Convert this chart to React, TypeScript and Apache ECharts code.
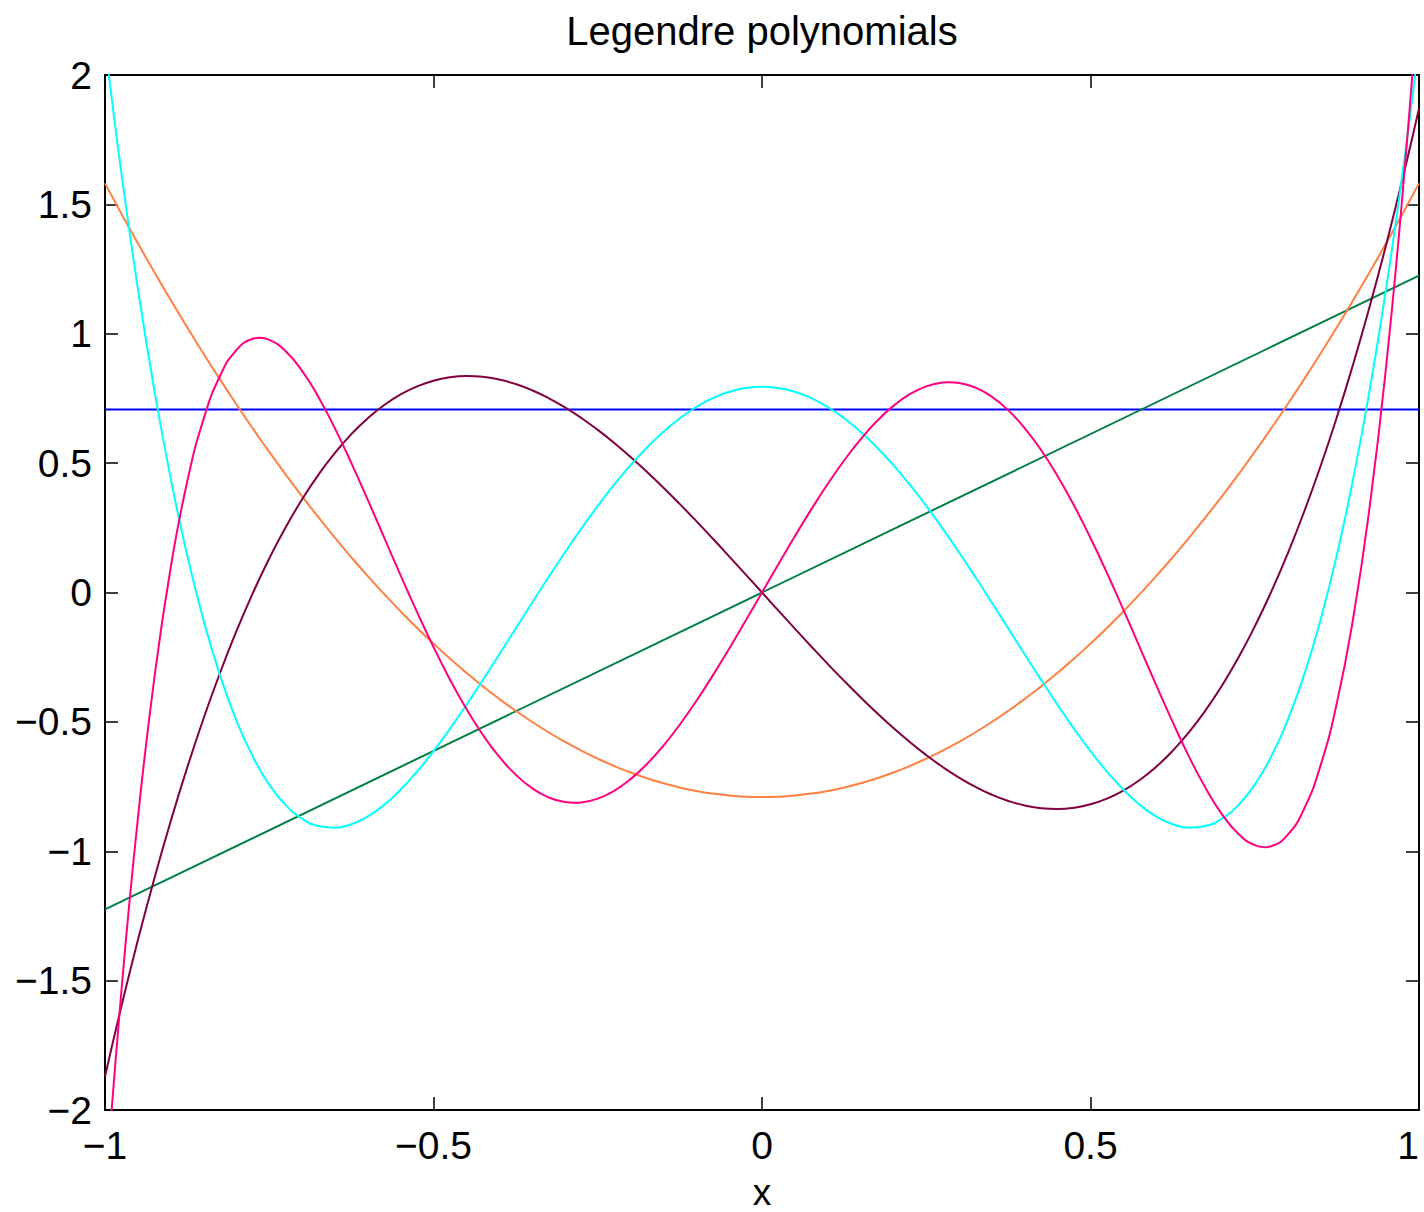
import React, { useEffect, useRef } from "react";
import * as echarts from "echarts";

// Sample positions on [-1, 1], step 0.025
const xs = [
  -1, -0.975, -0.95, -0.925, -0.9, -0.875, -0.85, -0.825, -0.8, -0.775, -0.75, -0.725, -0.7, -0.675, -0.65, -0.625, -0.6, -0.575, -0.55, -0.525,
  -0.5, -0.475, -0.45, -0.425, -0.4, -0.375, -0.35, -0.325, -0.3, -0.275, -0.25, -0.225, -0.2, -0.175, -0.15, -0.125, -0.1, -0.075, -0.05, -0.025,
  0,
  0.025, 0.05, 0.075, 0.1, 0.125, 0.15, 0.175, 0.2, 0.225, 0.25, 0.275, 0.3, 0.325, 0.35, 0.375, 0.4, 0.425, 0.45, 0.475,
  0.5, 0.525, 0.55, 0.575, 0.6, 0.625, 0.65, 0.675, 0.7, 0.725, 0.75, 0.775, 0.8, 0.825, 0.85, 0.875, 0.9, 0.925, 0.95, 0.975, 1,
];

// P5 samples also include its four turning points (±0.285, ±0.765)
const xs5 = [
  -1, -0.975, -0.95, -0.925, -0.9, -0.875, -0.85, -0.825, -0.8, -0.775, -0.765, -0.75, -0.725, -0.7, -0.675, -0.65, -0.625, -0.6, -0.575, -0.55, -0.525,
  -0.5, -0.475, -0.45, -0.425, -0.4, -0.375, -0.35, -0.325, -0.3, -0.285, -0.275, -0.25, -0.225, -0.2, -0.175, -0.15, -0.125, -0.1, -0.075, -0.05, -0.025,
  0,
  0.025, 0.05, 0.075, 0.1, 0.125, 0.15, 0.175, 0.2, 0.225, 0.25, 0.275, 0.285, 0.3, 0.325, 0.35, 0.375, 0.4, 0.425, 0.45, 0.475,
  0.5, 0.525, 0.55, 0.575, 0.6, 0.625, 0.65, 0.675, 0.7, 0.725, 0.75, 0.765, 0.775, 0.8, 0.825, 0.85, 0.875, 0.9, 0.925, 0.95, 0.975, 1,
];

// End points for the two straight lines
const xsEnds = [-1, 1];
const p0 = [0.7071, 0.7071];
const p1 = [-1.2247, 1.2247];

// Normalized Legendre polynomials P2..P5
const p2 = [
  1.5811, 1.464, 1.3499, 1.2387, 1.1305, 1.0253, 0.923, 0.8237, 0.7273, 0.6339, 0.5435, 0.4561, 0.3716, 0.29, 0.2115, 0.1359, 0.0632, -0.0064, -0.0731, -0.1369,
  -0.1976, -0.2555, -0.3103, -0.3622, -0.4111, -0.4571, -0.5, -0.5401, -0.5771, -0.6112, -0.6423, -0.6705, -0.6957, -0.7179, -0.7372, -0.7535, -0.7669, -0.7772, -0.7846, -0.7891,
  -0.7906,
  -0.7891, -0.7846, -0.7772, -0.7669, -0.7535, -0.7372, -0.7179, -0.6957, -0.6705, -0.6423, -0.6112, -0.5771, -0.5401, -0.5, -0.4571, -0.4111, -0.3622, -0.3103, -0.2555,
  -0.1976, -0.1369, -0.0731, -0.0064, 0.0632, 0.1359, 0.2115, 0.29, 0.3716, 0.4561, 0.5435, 0.6339, 0.7273, 0.8237, 0.923, 1.0253, 1.1305, 1.2387, 1.3499, 1.464, 1.5811,
];
const p3 = [
  -1.8708, -1.5989, -1.3441, -1.1059, -0.884, -0.6778, -0.487, -0.3111, -0.1497, -0.0023, 0.1315, 0.2522, 0.3601, 0.4558, 0.5396, 0.612, 0.6735, 0.7244, 0.7653, 0.7965,
  0.8185, 0.8317, 0.8366, 0.8336, 0.8232, 0.8057, 0.7817, 0.7515, 0.7156, 0.6744, 0.6285, 0.5781, 0.5238, 0.466, 0.4051, 0.3416, 0.2759, 0.2085, 0.1397, 0.0701,
  0,
  -0.0701, -0.1397, -0.2085, -0.2759, -0.3416, -0.4051, -0.466, -0.5238, -0.5781, -0.6285, -0.6744, -0.7156, -0.7515, -0.7817, -0.8057, -0.8232, -0.8336, -0.8366, -0.8317,
  -0.8185, -0.7965, -0.7653, -0.7244, -0.6735, -0.612, -0.5396, -0.4558, -0.3601, -0.2522, -0.1315, 0.0023, 0.1497, 0.3111, 0.487, 0.6778, 0.884, 1.1059, 1.3441, 1.5989, 1.8708,
];
const p4 = [
  2.1213, 1.6203, 1.1754, 0.7834, 0.4411, 0.1452, -0.1073, -0.3195, -0.4943, -0.6344, -0.7427, -0.8217, -0.8741, -0.9023, -0.9088, -0.8955, -0.8655, -0.8201, -0.7616, -0.692,
  -0.6132, -0.5269, -0.4348, -0.3386, -0.2397, -0.1396, -0.0397, 0.0588, 0.1547, 0.247, 0.3346, 0.4166, 0.4921, 0.5606, 0.6212, 0.6735, 0.7169, 0.751, 0.7757, 0.7905,
  0.7955,
  0.7905, 0.7757, 0.751, 0.7169, 0.6735, 0.6212, 0.5606, 0.4921, 0.4166, 0.3346, 0.247, 0.1547, 0.0588, -0.0397, -0.1396, -0.2397, -0.3386, -0.4348, -0.5269,
  -0.6132, -0.692, -0.7616, -0.8201, -0.8655, -0.8955, -0.9088, -0.9023, -0.8741, -0.8217, -0.7427, -0.6344, -0.4943, -0.3195, -0.1073, 0.1452, 0.4411, 0.7834, 1.1754, 1.6203, 2.1213,
];
const p5 = [
  -2.3452, -1.5402, -0.8742, -0.3331, 0.0965, 0.4269, 0.6699, 0.8366, 0.937, 0.9807, 0.9843, 0.9765, 0.9326, 0.8565, 0.755, 0.6344, 0.5003, 0.358, 0.2119, 0.0661, -0.0758,
  -0.2107, -0.3361, -0.4496, -0.5496, -0.6347, -0.7038, -0.7562, -0.7916, -0.81, -0.8129, -0.8115, -0.7967, -0.7663, -0.7212, -0.6626, -0.5917, -0.5101, -0.4194, -0.3212, -0.2173, -0.1096,
  0,
  0.1096, 0.2173, 0.3212, 0.4194, 0.5101, 0.5917, 0.6626, 0.7212, 0.7663, 0.7967, 0.8115, 0.8129, 0.81, 0.7916, 0.7562, 0.7038, 0.6347, 0.5496, 0.4496, 0.3361,
  0.2107, 0.0758, -0.0661, -0.2119, -0.358, -0.5003, -0.6344, -0.755, -0.8565, -0.9326, -0.9765, -0.9843, -0.9807, -0.937, -0.8366, -0.6699, -0.4269, -0.0965, 0.3331, 0.8742, 1.5402, 2.3452,
];

const curves = [
  { name: "P0", x: xsEnds, values: p0, color: "#0000ff" },
  { name: "P1", x: xsEnds, values: p1, color: "#008040" },
  { name: "P2", x: xs, values: p2, color: "#ff8040" },
  { name: "P3", x: xs, values: p3, color: "#800040" },
  { name: "P4", x: xs, values: p4, color: "#00ffff" },
  { name: "P5", x: xs5, values: p5, color: "#ff0080" },
];

const FONT = "Liberation Sans, Arial, Helvetica, sans-serif";
const fmt = (v: number) => String(v).replace("-", "\u2212");

export default function App() {
  const ref = useRef<HTMLDivElement>(null);

  useEffect(() => {
    if (!ref.current) return;
    const chart = echarts.init(ref.current, undefined, { renderer: "svg" });

    const axisLine = { show: true, onZero: false, lineStyle: { color: "#000", width: 2 } };
    const tick = { show: true, inside: true, length: 13, lineStyle: { color: "#000", width: 1.5 } };
    const label = { color: "#000", fontSize: 39, fontFamily: FONT, formatter: fmt };

    chart.setOption({
      animation: false,
      backgroundColor: "#fff",
      grid: { left: 105, right: 5, top: 75, bottom: 102, containLabel: false, outerBoundsMode: "none" },
      graphic: [
        {
          type: "text",
          x: 762,
          y: 31,
          style: {
            text: "Legendre polynomials",
            fill: "#000",
            font: `40px ${FONT}`,
            textAlign: "center",
            textVerticalAlign: "middle",
          },
        },
      ],
      xAxis: [
        {
          type: "value",
          min: -1,
          max: 1,
          interval: 0.5,
          position: "bottom",
          axisLine,
          axisTick: tick,
          splitLine: { show: false },
          axisLabel: { ...label, margin: 16, alignMaxLabel: "right" },
          name: "x",
          nameLocation: "middle",
          nameGap: 68,
          nameTextStyle: { color: "#000", fontSize: 37, lineHeight: 28, fontFamily: FONT },
        },
        {
          type: "value",
          min: -1,
          max: 1,
          interval: 0.5,
          position: "top",
          axisLine,
          axisTick: tick,
          splitLine: { show: false },
          axisLabel: { show: false },
        },
      ],
      yAxis: [
        {
          type: "value",
          min: -2,
          max: 2,
          interval: 0.5,
          position: "left",
          axisLine,
          axisTick: tick,
          splitLine: { show: false },
          axisLabel: { ...label, margin: 13 },
        },
        {
          type: "value",
          min: -2,
          max: 2,
          interval: 0.5,
          position: "right",
          axisLine,
          axisTick: tick,
          splitLine: { show: false },
          axisLabel: { show: false },
        },
      ],
      series: curves.map((c) => ({
        name: c.name,
        type: "line",
        xAxisIndex: 0,
        yAxisIndex: 0,
        data: c.x.map((x, i) => [x, c.values[i]]),
        smooth: 0.5,
        showSymbol: false,
        symbol: "none",
        clip: true,
        lineStyle: { color: c.color, width: 2, join: "round" },
      })),
    });

    return () => chart.dispose();
  }, []);

  return (
    <div
      ref={ref}
      style={{ position: "fixed", left: 0, top: 0, width: 1424, height: 1212, background: "#fff" }}
    />
  );
}
